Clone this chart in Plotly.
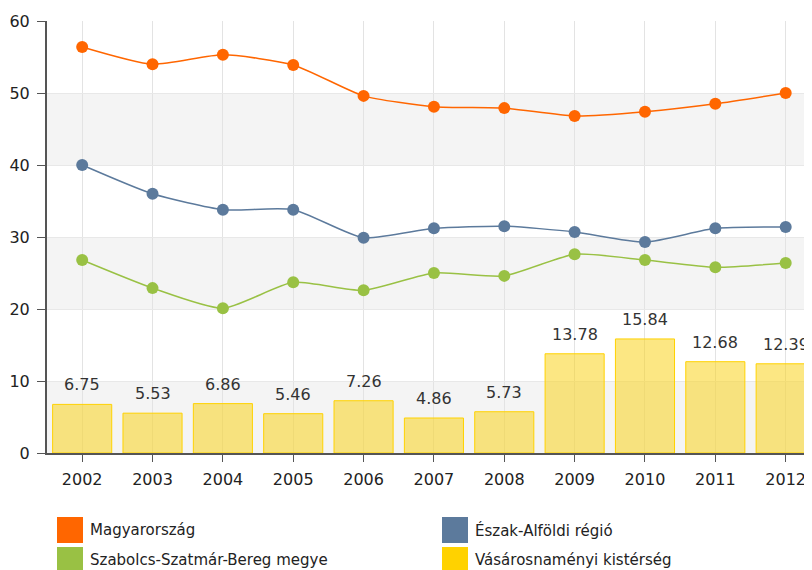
import plotly.graph_objects as go

years = ["2002", "2003", "2004", "2005", "2006", "2007", "2008", "2009", "2010", "2011", "2012"]
magyarorszag = [56.4, 54.0, 55.3, 53.9, 49.6, 48.1, 47.9, 46.8, 47.4, 48.5, 50.0]
eszak_alfold = [40.0, 36.0, 33.8, 33.8, 29.9, 31.2, 31.5, 30.7, 29.3, 31.2, 31.4]
szabolcs = [26.8, 22.9, 20.1, 23.7, 22.6, 25.0, 24.6, 27.6, 26.8, 25.8, 26.4]
vasarosnameny = [6.75, 5.53, 6.86, 5.46, 7.26, 4.86, 5.73, 13.78, 15.84, 12.68, 12.39]

names = ["Magyarország", "Észak-Alföldi régió", "Szabolcs-Szatmár-Bereg megye", "Vásárosnaményi kistérség"]
colors = ["#FF6600", "#5C7A9C", "#99C144", "#FFD200"]

FONT = "DejaVu Sans"
OFF = 8                      # page body margin
PAGE_W, PAGE_H = 812, 570
W, H = PAGE_W - OFF, PAGE_H - OFF
PL, PT, PB = 47, 21, 453     # plot area in page pixels
plot_w = PAGE_W - PL
plot_h = PB - PT

fig = go.Figure()

xs = list(range(len(years)))

fig.add_trace(go.Bar(
    x=xs, y=vasarosnameny, name=names[3],
    width=0.84,
    marker=dict(color="rgba(250,212,30,0.55)", line=dict(color="#FFD200", width=1)),
    showlegend=False, hoverinfo="x+y",
))

for i, v in enumerate(vasarosnameny):
    fig.add_annotation(x=i, y=v, xref="x", yref="y", text=f"{v:.2f}", showarrow=False,
                       yanchor="bottom", yshift=8,
                       font=dict(family=FONT, size=16, color="#333333"))

for vals, name, col in [(szabolcs, names[2], colors[2]), (eszak_alfold, names[1], colors[1]), (magyarorszag, names[0], colors[0])]:
    fig.add_trace(go.Scatter(
        x=xs, y=vals, name=name, mode="lines+markers",
        line=dict(color=col, width=1.5, shape="spline", smoothing=0.6),
        marker=dict(color=col, size=12),
        showlegend=False,
    ))

# alternating bands
for y0 in [0, 20, 40]:
    fig.add_shape(type="rect", xref="paper", yref="y", x0=0, x1=1, y0=y0, y1=y0 + 10,
                  fillcolor="#F4F4F4", line=dict(width=0), layer="below")

# manual legend
def px_x(px):
    return (px - PL) / plot_w

def px_y(py):
    return (PB - py) / plot_h

legend_items = [(0, 57, 517), (1, 442, 517), (2, 57, 547), (3, 442, 547)]
for idx, lx, ly in legend_items:
    fig.add_shape(type="rect", xref="paper", yref="paper",
                  x0=px_x(lx), x1=px_x(lx + 26), y0=px_y(ly + 26), y1=px_y(ly),
                  fillcolor=colors[idx], line=dict(width=0))
    fig.add_annotation(xref="paper", yref="paper", x=px_x(lx + 31), y=px_y(ly + 13),
                       text=names[idx], showarrow=False, xanchor="left", yanchor="middle",
                       font=dict(family=FONT, size=15, color="#222222"))

fig.update_layout(
    width=W, height=H,
    margin=dict(l=PL - OFF, r=0, t=PT - OFF, b=PAGE_H - PB, pad=0),
    paper_bgcolor="white", plot_bgcolor="white",
    showlegend=False,
    font=dict(family=FONT, size=15, color="#222222"),
    xaxis=dict(
        range=[-0.5, -0.5 + plot_w / 70.35],
        tickmode="array", tickvals=xs, ticktext=years,
        showgrid=True, gridcolor="#E3E3E3", gridwidth=1,
        showline=True, linecolor="#555555", linewidth=2,
        ticks="outside", ticklen=7, tickcolor="#555555",
        tickfont=dict(family=FONT, size=16, color="#222222"),
        ticklabelstandoff=4,
        zeroline=False, fixedrange=True,
    ),
    yaxis=dict(
        range=[0, 60], tickvals=[0, 10, 20, 30, 40, 50, 60],
        showgrid=True, gridcolor="#E8E8E8", gridwidth=1,
        showline=True, linecolor="#555555", linewidth=2,
        ticks="outside", ticklen=8, tickcolor="#555555",
        tickfont=dict(family=FONT, size=16, color="#222222"),
        ticklabelstandoff=4,
        zeroline=False, fixedrange=True,
    ),
)

fig.write_html("out.html")
